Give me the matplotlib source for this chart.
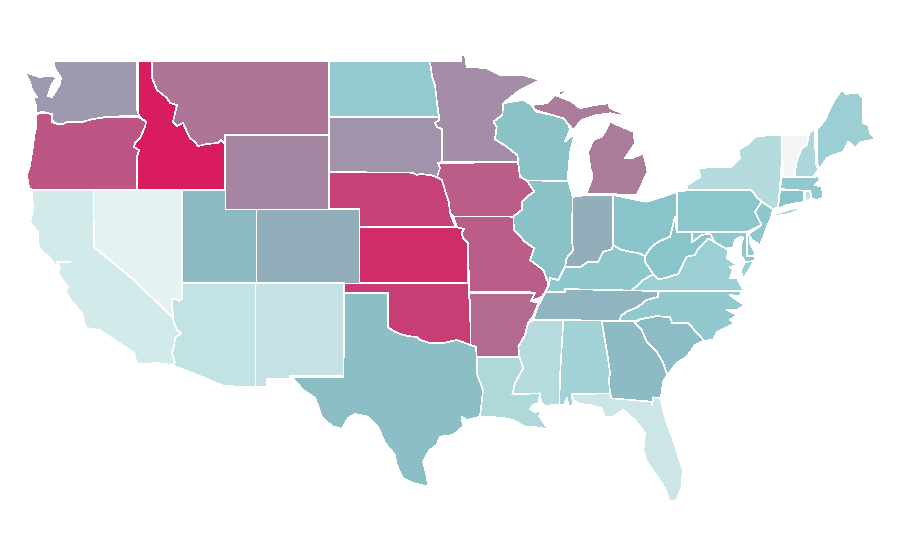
import matplotlib.pyplot as plt
from matplotlib.collections import PolyCollection
from matplotlib.colors import LinearSegmentedColormap, Normalize

# state outlines, in picture pixels (x, y)
WA = [[(54,61),(137,61),(137,110),(139,116),(108,116.5),(93,119),(82,122),(67,122),(63,124),(57,124),(52,120),(52,114),(43,112),(36,113),(36,105),(33,98),(37,97),(32,90),(30,82),(25,73),(28,73),(39,77),(50,76),(57,77),(51,86),(48,96),(52,97),(60,84),(61,78),(57,72),(54,66)]]
OR = [[(36,114),(43,113),(52,114),(52,122),(57,124),(63,124),(67,122),(82,122),(93,119),(108,117),(139,117),(146,122),(145,127),(140,138),(135,143),(134,147),(139,150),(137,157),(137,190),(32,190),(29,188),(27,175),(30,165),(33,147),(34,137),(36,128)]]
ID = [[(137.7,61),(152,61),(152,78),(157,90),(167,98),(170,103),(177,105),(175,113),(173,122),(177,126),(183,123),(187,132),(190,138),(195,142),(198,146),(207,144),(218,143),(221,140),(225,144),(225,190),(137,190),(137,157),(139,150),(134,147),(135,143),(140,138),(145,127),(146,122),(139,116),(137.7,110)]]
MT = [[(152,61),(329,61),(329,135),(225,135),(225,144),(221,140),(218,143),(207,144),(198,146),(195,142),(190,138),(187,132),(183,123),(177,126),(173,122),(175,113),(177,105),(170,103),(167,98),(157,90),(152,78)]]
WY = [[(225,135),(329,135),(329,209),(225,209)]]
ND = [[(329,61),(429,61),(431,67),(432,77),(435,85),(437,103),(439,117),(329,117)]]
SD = [[(329,117),(439,117),(439,120),(435,123),(437,127),(441.7,129),(441.7,162),(438,163),(440,168),(437,177),(430,175),(420,174),(417,175),(412,172.7),(329,172)]]
NE = [[(329,172),(412,172.7),(417,175),(420,174),(430,175),(437,177),(441.7,180),(445,190),(449,203),(450,213),(455,225),(457.3,227.3),(358.7,227.3),(358.7,209),(329,209)]]
KS = [[(358.7,227.3),(457,227.3),(464,229),(461.7,233),(463,238),(468.3,243),(468.3,283),(358.7,283)]]
OK = [[(344.3,283),(468.3,283),(468.5,293),(470,303),(470.7,345),(465,343),(457,340),(443,343),(430,343),(420,340),(417,337),(408,336),(400,334),(395,331.7),(388.3,327.7),(388.3,292.7),(344.3,292.7)]]
CO = [[(255.5,209),(358.7,209),(358.7,283),(255.5,283)]]
UT = [[(181.7,190),(225,190),(225,209),(255.5,209),(255.5,283),(181.7,283)]]
NV = [[(93.3,190),(181.7,190),(181.7,299),(179,301),(176,299),(172,299),(172,308),(173.5,316),(173,318),(134,280),(94,247)]]
CA = [[(32,190),(93.3,190),(94,247),(134,280),(173,318),(173,320),(177,330),(181,333),(175,338),(174,347),(172,352),(173,357),(175,362),(172,365),(157,363),(144,364),(137,364),(134,353),(118,342),(110,337),(100,330),(86,328),(82,313),(72,302),(66,292),(68,287),(65,283),(58,273),(60,268),(57,262),(70,262),(60,262),(56,266),(50,258),(39,248),(38,238),(38,232),(30,222),(33,210)]]
AZ = [[(181.7,283),(255.5,283),(255.5,387),(224,386),(205,378),(172,365),(175,362),(173,357),(172,352),(174,347),(175,338),(181,333),(177,330),(173,320),(173,318),(173.5,316),(172,308),(172,299),(176,299),(179,301),(181.7,299)]]
NM = [[(255.5,283),(344.3,283),(344,343),(343.3,375.7),(290,375.7),(290,379),(267,379),(267,387),(255.5,387)]]
TX = [[(344.3,292.7),(388.3,292.7),(388.3,327.7),(395,331.7),(400,334),(408,336),(417,337),(420,340),(430,343),(443,343),(457,340),(465,343),(476,346.7),(476.7,356.7),(476.7,373),(483,390),(480,416.7),(466.7,420),(461.7,416.7),(463,426.7),(453,435),(440,436.7),(436.7,445),(430,450),(426.7,455),(423,461.7),(426,473),(428.3,486.7),(413,483),(403,478),(396.7,465),(395,455),(385,443),(378,426.7),(368,416.7),(355,414),(348,418),(341.7,429),(331.7,426),(321.7,416.7),(319,408),(315,398),(303,390),(291.7,376.7),(343.3,376.7),(344,343)]]
IA = [[(438,163),(518,162.3),(520,176.7),(526.7,180),(534.3,191.7),(528,196),(521.7,201.7),(521.7,210),(513.3,216.7),(453.3,216.5),(450,213),(449,203),(445,190),(441.7,180),(437,177),(440,168)]]
MO = [[(453.3,216.5),(513.3,216.7),(514,230),(525,241.7),(534,248.3),(530,260),(543.3,270),(548.3,283.3),(546.7,290),(541.7,297),(531,301),(535,293.3),(530,292.3),(469,292.3),(468.3,243),(463,238),(461.7,233),(464,229),(457,227.3)]]
AR = [[(469,292.7),(530,292.7),(535,293.3),(531,301),(538.3,303),(533,316.7),(528,323),(525,335),(518.3,346.7),(519.3,356.7),(476.7,356.7),(476,346.7),(470.7,345),(470,303)]]
LA = [[(476.7,356.7),(519.3,356.7),(523.3,368),(515,383),(512.3,394.3),(540,393.3),(538.3,403),(533,405),(530,409),(535,412),(541,411),(539,416),(548.3,429.3),(535,427),(525,426.7),(513,420),(503,418),(488,416.7),(480,416.7),(483,390),(476.7,373)]]
MS = [[(533.3,320),(563.3,320),(560,376.7),(559.3,405),(553,405),(545,406),(541,402),(540,393.3),(512.3,394.3),(515,383),(523.3,368),(519.3,356.7),(518.3,346.7),(525,335),(528,323)]]
AL = [[(563.3,320),(601.7,320.7),(608.3,360),(610,373.3),(609,380),(610,393.3),(571.7,394.3),(573,404),(569,407),(567,398),(564,405),(559.3,405),(560,376.7)]]
GA = [[(601.7,320.7),(636,320.7),(635,323),(641.7,330),(646.7,341.7),(656.7,351.7),(663.3,363),(667.3,375),(663,381.7),(661.7,393),(660,398),(653.3,397.3),(651.7,405),(651.7,401.7),(611.7,398.3),(610,393.3),(609,380),(610,373.3),(608.3,360)]]
SC = [[(635,323),(640,319.3),(656.7,316),(670,317.3),(672.3,323.3),(688.3,323.3),(704,340.7),(695,345),(686.7,356.7),(676.7,363),(667.3,375),(663.3,363),(656.7,351.7),(646.7,341.7),(641.7,330)]]
FL = [[(571.7,394.3),(610,393.3),(611.7,398.3),(651.7,401.7),(651.7,405),(653.3,397.3),(660,398),(666.7,423),(673.3,440),(682.7,470),(681.7,486.7),(676.7,500),(670,501.7),(665,488.3),(655,473.3),(646.7,461.7),(643.3,450),(645,433),(635,420),(623.3,410),(613.3,416.7),(605,417.3),(601.7,408.3),(590,405),(580,404),(573.3,400)]]
TN = [[(545,292.3),(565,291.7),(565,289),(606.7,290),(658.3,291),(658.3,296.7),(646.7,300),(638.3,306.7),(626.7,311.7),(620.7,316),(620,320.5),(601.7,320.7),(563.3,320),(533.3,320),(538.3,305),(541,301)]]
NC = [[(658.3,291.7),(743,291),(739,296),(730,295),(738,301),(745,305),(737,310),(727,310),(737,315),(730,320),(735,323),(717,332),(713,340),(704,340.7),(688.3,323.3),(672.3,323.3),(670,317.3),(656.7,316),(640,319.3),(636,320.7),(620,320.5),(620.7,316),(626.7,311.7),(638.3,306.7),(646.7,300),(658.3,296.7)]]
VA = [[(631.7,290.5),(643.3,280),(653.3,274),(658.3,279.3),(665,278),(678.3,274),(686.7,256.7),(695,255),(698.3,248.3),(708.3,238.3),(717,243.5),(728,250),(727,258),(732,262),(738,265),(730,267),(733,270),(730,278),(737,278),(742,287),(743,291)],[(745,262),(754,261),(749,270),(743,279),(741,270)]]
KY = [[(545,292.3),(565,291.7),(565,289),(606.7,290),(631.7,290.5),(643.3,280),(653.3,274),(645,261.7),(645,256),(638,253),(630,251.7),(620,249.3),(613.3,245),(611.7,249.3),(603.3,251.7),(598.3,261.7),(588.3,261.7),(580,267.3),(565,266.7),(558.3,280),(550,278),(549,285)]]
WV = [[(645,256),(651.7,246.7),(658.3,241.7),(670,236.7),(675,217),(676.7,232.3),(691.7,232.3),(691.7,242.3),(701.7,235),(710,233.3),(714,241),(708.3,238.3),(698.3,248.3),(695,255),(686.7,256.7),(678.3,274),(665,278),(658.3,279.3),(653.3,274),(645,261.7)]]
OH = [[(613.3,195),(636.7,200),(646.7,201.7),(663,196.7),(676.7,191.7),(676.7,216.7),(675,217),(670,236.7),(658.3,241.7),(651.7,246.7),(645,256),(638,253),(630,251.7),(620,249.3),(613.3,245)]]
IN = [[(572.7,197),(586.7,195),(613.3,195),(613.3,245),(611.7,249.3),(603.3,251.7),(598.3,261.7),(588.3,261.7),(580,267.3),(565,266.7),(566.7,258),(573.3,250),(571.7,240)]]
IL = [[(526.7,180.5),(568.3,181),(572.7,197),(571.7,240),(573.3,250),(566.7,258),(565,266.7),(558.3,280),(550,278),(549,285),(548.3,283.3),(543.3,270),(530,260),(534,248.3),(525,241.7),(514,230),(513.3,216.7),(521.7,210),(521.7,201.7),(528,196),(534.3,191.7)]]
WI = [[(502.3,103.3),(523.3,100),(531.7,105),(536.7,111.7),(566.7,118.3),(570,130),(565,141.7),(575,133.3),(570,153),(568.3,171.7),(568.3,181),(526.7,180.5),(520,176.7),(517.3,155),(506.7,146.7),(495,139.3),(496.7,126.7),(493.3,121.7),(502.3,115)]]
MN = [[(429,61),(461,61),(461.7,55),(465,55),(466.7,66.7),(486.7,68.3),(500,75),(523.3,75),(540,80),(520,90),(503.3,103.3),(502.3,115),(493.3,121.7),(496.7,126.7),(495,139.3),(506.7,146.7),(517.3,155),(518.3,162.3),(441.7,162.3),(441.7,129),(437,127),(435,123),(439,120),(439,117),(437,103),(435,85),(432,77),(431,67)]]
MI = [[(531.7,105),(546.7,103.3),(555,95),(571.7,101.7),(580,108.3),(595,105),(608.3,103.3),(610,108),(621.7,113.3),(623,116),(610,113.3),(596.7,115),(581.7,120),(573.3,130),(563.3,118.3),(535,110)],[(586.7,193.3),(592.7,176.7),(590,166.7),(588.3,151.7),(593.3,140),(601.7,136.7),(606,130),(610,121.7),(633.3,131.7),(635,143.3),(625,158.3),(633,158),(643.3,153.3),(647.7,171.7),(636.7,195)],[(558,94),(560,91),(568,90),(560,96)],[(550,81),(555,78),(555,80)]]
PA = [[(676.7,191.7),(687.3,190.3),(751.7,190.3),(757.3,198),(761.7,201.7),(755,212),(761.7,225),(746.7,232.3),(676.7,232.3)]]
NY = [[(687.3,190.3),(687.3,185),(700.7,176.7),(698.3,168.3),(718.3,166.7),(731.7,166.7),(740,158.3),(738.3,150),(746.7,145),(756.7,136),(781.7,135),(781.7,161.7),(780,186.7),(778,206.7),(774,210),(761.7,201.7),(757.3,198),(751.7,190.3)],[(773,215),(790,209),(802,208),(790,214),(775,216)]]
VT = [[(782,135),(808.7,135),(807,145),(801.7,148),(796,163),(794,176.7),(783.3,176.7),(782.7,160)]]
NH = [[(810.3,131.7),(814.3,130),(816,163),(818.3,170),(813.3,176.7),(795,176.7),(796,163),(801.7,148),(807,145),(808.7,135)]]
ME = [[(816.7,130),(825,120),(829.3,110),(833.3,101.7),(841.7,90),(845.7,94),(858.3,92.7),(863.3,98.3),(863.3,123.3),(868.3,125),(870,133),(875.7,138.3),(870,140.7),(861.7,141.7),(855,147.3),(848.3,141.7),(843.3,151.7),(833.3,155),(826.7,158.3),(820,168.3),(816.7,163)]]
MA = [[(781.7,177.3),(795,177.3),(813.3,177.3),(818.3,176),(820,180),(815,185),(821.7,186.7),(823.3,196),(830,195.7),(816.7,200),(811.7,198.3),(810,190.7),(803.3,190.7),(780,189)]]
RI = [[(805,190.7),(810,190.7),(811.7,198.3),(805,201.7)]]
CT = [[(780,190),(804,190.7),(804.3,201.7),(786.7,205),(777.3,209.3),(778.3,206.7)]]
NJ = [[(761.7,201.7),(773.3,209.3),(771,218),(768.3,223.3),(763,238),(760,245),(752,240),(748,234),(761.7,225),(755,212)]]
DE = [[(746.7,233.3),(749,232),(750,243),(756,255),(747.3,256)]]
MD = [[(691.7,232.3),(746.7,232.3),(747.3,256),(756,255.7),(754,261),(745,262),(741,255),(741,245),(743,238),(741,236.7),(735,240),(733,248),(728,248),(728,250),(717,243.5),(714,241),(710,233.3),(701.7,235),(691.7,242.3)]]

state_outlines = [WA, OR, ID, MT, WY, ND, SD, NE, KS, OK, CO, UT, NV, CA, AZ, NM, TX, IA, MO, AR, LA, MS, AL, GA, SC, FL, TN, NC, VA, KY, WV, OH, IN, IL, WI, MN, MI, PA, NY, VT, NH, ME, MA, RI, CT, NJ, DE, MD]

# value of each state on a 0-100 scale, same order as state_outlines
state_values = [62.5, 82.5, 100, 73.5, 68, 45, 64.5, 88.5, 95, 90, 57, 53.5, 7, 15, 23, 22, 52, 80.5, 80.5, 77, 32, 29, 37.5, 53, 52.5, 18, 55, 46, 41, 47, 50, 50, 57, 51, 51, 66.5, 71.5, 49, 30, 0, 33.5, 41, 46, 24, 50, 47, 46, 47]

cmap = LinearSegmentedColormap.from_list(
    "choropleth",
    [(0, "#f3f4f6"), (0.07, "#e4f2f3"), (0.5, "#88c5ca"), (1, "#d91c60")],
)

fig = plt.figure(figsize=(9, 5.6), dpi=100)
ax = fig.add_axes([0, 0, 1, 1])

rings = []
ring_values = []
for outline, value in zip(state_outlines, state_values):
    for ring in outline:
        rings.append(ring)
        ring_values.append(value)

# thin aliased white borders
states = PolyCollection(rings, array=ring_values, cmap=cmap, norm=Normalize(0, 100),
                        edgecolors="white", linewidths=0.45, antialiaseds=False)
ax.add_collection(states)

ax.set_xlim(0, 900)
ax.set_ylim(560, 0)
ax.axis("off")

fig.savefig("out.png", dpi=100)
